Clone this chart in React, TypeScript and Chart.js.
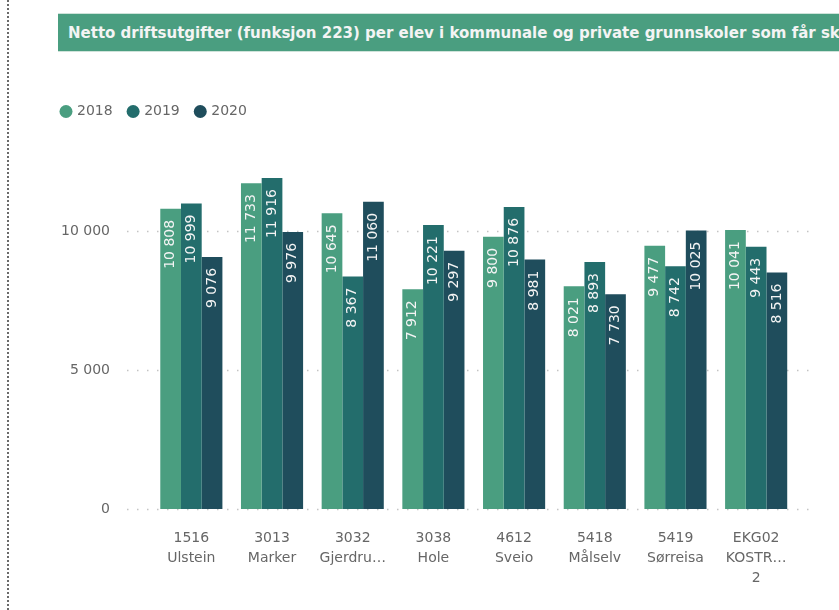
import React, { useEffect, useRef } from "react";
import { Chart, registerables } from "chart.js";

Chart.register(...registerables);

const titleText =
  "Netto driftsutgifter (funksjon 223) per elev i kommunale og private grunnskoler som får sk";
const categories: string[][] = [
  ["1516", "Ulstein"],
  ["3013", "Marker"],
  ["3032", "Gjerdru…"],
  ["3038", "Hole"],
  ["4612", "Sveio"],
  ["5418", "Målselv"],
  ["5419", "Sørreisa"],
  ["EKG02", "KOSTR…", "2"],
];
const years = ["2018", "2019", "2020"];
const values2018 = [10808, 11733, 10645, 7912, 9800, 8021, 9477, 10041];
const values2019 = [10999, 11916, 8367, 10221, 10876, 8893, 8742, 9443];
const values2020 = [9076, 9976, 11060, 9297, 8981, 7730, 10025, 8516];
const yTickValues = [0, 5000, 10000];
const seriesColors = ["#4a9e80", "#236d6c", "#1f4d5c"];

const fmt = (n: number) => String(n).replace(/\B(?=(\d{3})+(?!\d))/g, " ");
const FONT = "'DejaVu Sans', sans-serif";
const TEXT_GRAY = "#666666";

const gridPlugin = {
  id: "dottedGrid",
  beforeDatasetsDraw(chart: any) {
    const { ctx, chartArea } = chart;
    const y = chart.scales.y;
    ctx.save();
    ctx.strokeStyle = "#c4c4c4";
    ctx.lineWidth = 1.5;
    ctx.setLineDash([1.5, 8.5]);
    for (const t of yTickValues) {
      const py = Math.round(y.getPixelForValue(t)) + 0.5;
      ctx.beginPath();
      ctx.moveTo(chartArea.left - 24, py);
      ctx.lineTo(chartArea.right + 20, py);
      ctx.stroke();
    }
    ctx.restore();
  },
};

const labelPlugin = {
  id: "barLabels",
  afterDatasetsDraw(chart: any) {
    const { ctx } = chart;
    ctx.save();
    ctx.font = `14px ${FONT}`;
    ctx.fillStyle = "#f4f4f4";
    ctx.textAlign = "right";
    ctx.textBaseline = "middle";
    chart.data.datasets.forEach((ds: any, di: number) => {
      const meta = chart.getDatasetMeta(di);
      meta.data.forEach((bar: any, i: number) => {
        ctx.save();
        ctx.translate(bar.x, bar.y + 11);
        ctx.rotate(-Math.PI / 2);
        ctx.fillText(fmt(ds.data[i]), 0, 0);
        ctx.restore();
      });
    });
    ctx.restore();
  },
};

export default function App() {
  const ref = useRef<HTMLCanvasElement | null>(null);
  useEffect(() => {
    if (!ref.current) return;
    const chart = new Chart(ref.current, {
      type: "bar",
      data: {
        labels: categories as any,
        datasets: [values2018, values2019, values2020].map((d, i) => ({
          label: years[i],
          data: d,
          backgroundColor: seriesColors[i],
          borderWidth: 0,
          categoryPercentage: 0.77,
          barPercentage: 1.0,
        })),
      },
      options: {
        responsive: false,
        animation: false,
        devicePixelRatio: 1,
        layout: { padding: { left: 45.5, right: 42.5, top: 88, bottom: 21 } },
        plugins: {
          title: { display: false },
          tooltip: { enabled: false },
          legend: {
            position: "top",
            align: "start",
            labels: {
              usePointStyle: true,
              pointStyle: "circle",
              boxWidth: 8,
              boxHeight: 9.2,
              padding: 16.5,
              color: TEXT_GRAY,
              font: { family: FONT, size: 14 },
            },
          },
        },
        scales: {
          x: {
            grid: { display: false, drawTicks: false },
            border: { display: false },
            ticks: {
              color: TEXT_GRAY,
              font: { family: FONT, size: 14, lineHeight: 20 / 14 },
              padding: 19,
              maxRotation: 0,
              autoSkip: false,
            },
            afterFit: (s: any) => {
              s.height = 80;
            },
          },
          y: {
            min: 0,
            max: 13700,
            grid: { display: false, drawTicks: false },
            border: { display: false },
            ticks: {
              color: TEXT_GRAY,
              font: { family: FONT, size: 14 },
              padding: 41,
              callback: (v: any) => fmt(Number(v)),
            },
            afterBuildTicks: (s: any) => {
              s.ticks = yTickValues.map((v) => ({ value: v }));
            },
            afterFit: (s: any) => {
              s.width = 105.5;
            },
          },
        },
      },
      plugins: [gridPlugin, labelPlugin],
    });
    return () => chart.destroy();
  }, []);

  return (
    <div
      style={{
        position: "absolute",
        left: 0,
        top: 0,
        width: 839,
        height: 610,
        overflow: "hidden",
        background: "#ffffff",
      }}
    >
      <canvas ref={ref} width={839} height={610} style={{ position: "absolute", left: 0, top: 0 }} />
      <div
        style={{
          position: "absolute",
          left: 7,
          top: 0,
          height: 610,
          borderLeft: "2px dotted #6a6a6a",
        }}
      />
      <div
        style={{
          position: "absolute",
          left: 58,
          top: 13,
          width: 781,
          height: 39,
          background: "#4a9e80",
          borderTop: "1px solid #cfe3da",
          borderBottom: "1px solid #cfe3da",
          boxSizing: "border-box",
          color: "#f4f4f4",
          fontFamily: "'DejaVu Sans', sans-serif",
          fontWeight: "bold",
          fontSize: 15,
          lineHeight: "38px",
          paddingLeft: 10,
          whiteSpace: "nowrap",
          overflow: "hidden",
        }}
      >
        {titleText}
      </div>
    </div>
  );
}
